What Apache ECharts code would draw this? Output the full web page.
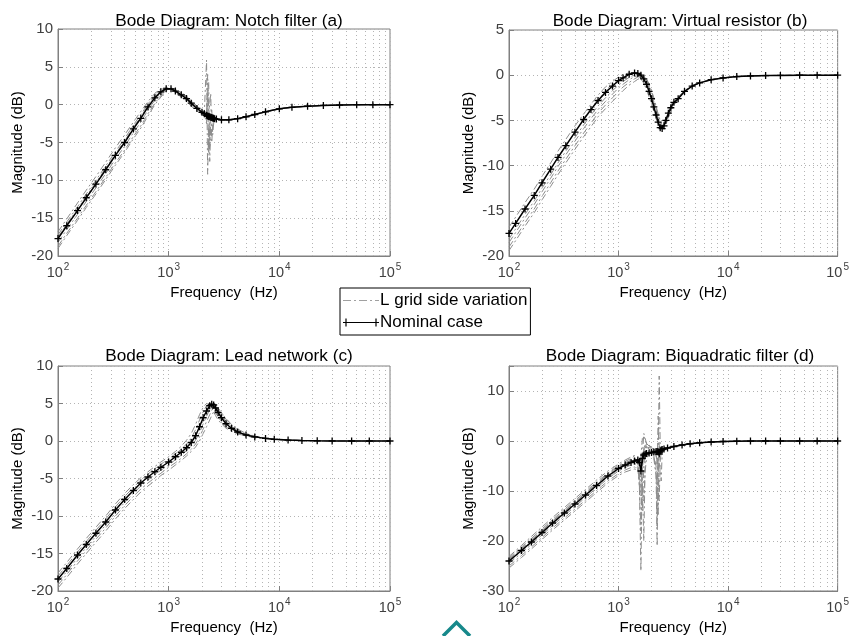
<!DOCTYPE html>
<html><head><meta charset="utf-8">
<script src="https://cdn.jsdelivr.net/npm/echarts@6/dist/echarts.min.js"></script>
<style>html,body{margin:0;padding:0;background:#fff}#c{width:852px;height:636px}</style>
</head><body><div id="c"></div>
<script>
// ---------- data ----------
const titles = ['Bode Diagram: Notch filter (a)', 'Bode Diagram: Virtual resistor (b)', 'Bode Diagram: Lead network (c)', 'Bode Diagram: Biquadratic filter (d)'];
const xName = 'Frequency  (Hz)';
const yName = 'Magnitude (dB)';
const legendNames = ['L grid side variation', 'Nominal case'];
const minorFreq = [200,300,400,500,600,700,800,900,2000,3000,4000,5000,6000,7000,8000,9000,20000,30000,40000,50000,60000,70000,80000,90000];

// (a) Notch filter
const freqA = [100,120,150,180,220,270,330,400,480,560,650,750,850,950,1050,1150,1300,1450,1600,1800,2000,2100,2200,2250,2300,2350,2400,2450,2500,2550,2600,2700,3000,3500,4200,5000,6000,7500,10000,13000,18000,25000,35000,50000,70000,100000];
const nomA = [-17.7,-16.0,-14.0,-12.3,-10.5,-8.6,-6.7,-5.0,-3.2,-1.8,-0.3,0.9,1.7,2.1,2.1,1.8,1.3,0.8,0.2,-0.5,-1.0,-1.2,-1.4,-1.5,-1.55,-1.6,-1.65,-1.7,-1.75,-1.8,-1.85,-1.9,-2.0,-2.0,-1.85,-1.6,-1.3,-0.95,-0.55,-0.35,-0.2,-0.1,-0.05,0,0,0];
const varA1 = [-16.8,-15.1,-13.0,-11.3,-9.5,-7.6,-5.7,-4.0,-2.3,-0.9,0.4,1.5,2.1,2.3,2.0,1.6,1.0,0.4,-0.2,-0.8,-1.2,-1.0,5.9,-9.2,-3.0,-2.2,-2.0,-1.9,-1.9,-1.9,-1.95,-2.0,-2.05,-2.0,-1.8,-1.55,-1.25,-0.9,-0.5,-0.33,-0.2,-0.1,-0.05,0,0,0];
const varA2 = [-17.2,-15.5,-13.5,-11.8,-10.0,-8.1,-6.2,-4.5,-2.7,-1.3,0.1,1.2,1.9,2.2,2.05,1.7,1.15,0.6,0.0,-0.65,-1.1,-1.3,-1.2,1.5,-6.5,-2.5,-1.9,-1.8,-1.8,-1.85,-1.9,-1.95,-2.0,-2.0,-1.85,-1.6,-1.3,-0.95,-0.55,-0.35,-0.2,-0.1,-0.05,0,0,0];
const varA3 = [-18.2,-16.5,-14.5,-12.8,-11.0,-9.1,-7.2,-5.5,-3.7,-2.3,-0.7,0.6,1.5,2.0,2.15,1.9,1.4,0.9,0.35,-0.4,-0.9,-1.1,-1.3,-1.4,3.0,-7.5,-3.0,-2.0,-1.8,-1.8,-1.85,-1.9,-2.0,-2.0,-1.85,-1.6,-1.3,-0.95,-0.55,-0.35,-0.2,-0.1,-0.05,0,0,0];
const varA4 = [-18.7,-17.0,-15.0,-13.3,-11.5,-9.6,-7.7,-6.0,-4.2,-2.8,-1.2,0.2,1.2,1.9,2.2,2.0,1.5,1.0,0.5,-0.3,-0.8,-1.0,-1.2,-1.3,-1.4,-1.3,1.5,-5.0,-2.8,-2.1,-1.9,-1.95,-2.0,-2.0,-1.85,-1.6,-1.3,-0.95,-0.55,-0.35,-0.2,-0.1,-0.05,0,0,0];
const varA5 = [-19.0,-17.3,-15.3,-13.6,-11.8,-9.9,-8.0,-6.3,-4.5,-3.1,-1.5,0.0,1.0,1.8,2.2,2.05,1.6,1.1,0.6,-0.2,-0.7,-0.9,-1.1,-1.2,-1.3,-1.4,-1.5,-0.5,-4.0,-2.5,-2.1,-2.0,-2.0,-2.0,-1.85,-1.6,-1.3,-0.95,-0.55,-0.35,-0.2,-0.1,-0.05,0,0,0];
const varA6 = [-17.5,-15.8,-13.8,-12.1,-10.3,-8.4,-6.5,-4.8,-3.0,-1.6,-0.1,1.0,1.8,2.15,2.1,1.75,1.2,0.7,0.1,-0.6,-1.05,-1.25,-2.5,4.0,-1.0,-5.5,-2.2,-1.9,-1.8,-1.85,-1.9,-1.95,-2.0,-2.0,-1.85,-1.6,-1.3,-0.95,-0.55,-0.35,-0.2,-0.1,-0.05,0,0,0];

// (b) Virtual resistor
const freqB = [100,115,140,170,200,240,280,330,400,480,560,650,760,880,1000,1100,1250,1400,1500,1600,1700,1800,1900,2000,2100,2200,2300,2400,2500,2600,2700,2850,3000,3200,3500,4000,4700,5500,7000,9000,12000,16000,22000,30000,45000,65000,100000];
const nomB = [-17.5,-16.4,-14.8,-13.3,-11.9,-10.4,-9.1,-7.8,-6.3,-4.9,-3.8,-2.8,-1.9,-1.2,-0.6,-0.3,0.1,0.25,0.2,0.0,-0.4,-1.0,-1.8,-2.6,-3.5,-4.4,-5.2,-5.8,-5.9,-5.6,-5.0,-4.2,-3.6,-3.0,-2.6,-1.8,-1.2,-0.85,-0.5,-0.3,-0.15,-0.08,-0.04,-0.02,0,0,0];
const varB1 = [-16.8,-15.7,-14.1,-12.6,-11.2,-9.7,-8.4,-7.1,-5.6,-4.3,-3.2,-2.2,-1.3,-0.7,-0.2,0.1,0.25,0.2,0.0,-0.4,-0.9,-1.6,-2.4,-3.2,-4.0,-4.8,-5.4,-5.7,-5.6,-5.2,-4.7,-4.0,-3.4,-2.8,-2.4,-1.7,-1.15,-0.8,-0.48,-0.28,-0.15,-0.08,-0.04,-0.02,0,0,0];
const varB2 = [-18.1,-17.0,-15.4,-13.9,-12.5,-11.0,-9.7,-8.4,-6.9,-5.5,-4.4,-3.4,-2.5,-1.7,-1.1,-0.7,-0.25,0.05,0.1,0.05,-0.2,-0.7,-1.4,-2.2,-3.1,-4.0,-4.9,-5.5,-5.8,-5.7,-5.2,-4.4,-3.7,-3.1,-2.6,-1.8,-1.2,-0.85,-0.5,-0.3,-0.15,-0.08,-0.04,-0.02,0,0,0];
const varB3 = [-18.5,-17.4,-15.8,-14.3,-12.9,-11.4,-10.1,-8.8,-7.3,-5.9,-4.8,-3.8,-2.9,-2.1,-1.4,-1.0,-0.5,-0.15,-0.05,0.0,-0.1,-0.5,-1.2,-2.0,-2.9,-3.8,-4.7,-5.4,-5.8,-5.8,-5.3,-4.5,-3.8,-3.1,-2.6,-1.8,-1.2,-0.85,-0.5,-0.3,-0.15,-0.08,-0.04,-0.02,0,0,0];
const varB4 = [-19.0,-17.9,-16.3,-14.8,-13.4,-11.9,-10.6,-9.3,-7.8,-6.4,-5.3,-4.2,-3.3,-2.5,-1.8,-1.3,-0.8,-0.4,-0.2,-0.1,-0.15,-0.4,-1.0,-1.8,-2.7,-3.6,-4.5,-5.2,-5.7,-5.8,-5.4,-4.6,-3.9,-3.2,-2.6,-1.8,-1.2,-0.85,-0.5,-0.3,-0.15,-0.08,-0.04,-0.02,0,0,0];
const varB5 = [-19.4,-18.3,-16.7,-15.2,-13.8,-12.3,-11.0,-9.7,-8.2,-6.8,-5.7,-4.6,-3.7,-2.9,-2.2,-1.7,-1.1,-0.7,-0.45,-0.3,-0.3,-0.5,-1.0,-1.7,-2.5,-3.4,-4.3,-5.0,-5.6,-5.8,-5.5,-4.7,-4.0,-3.3,-2.7,-1.85,-1.25,-0.85,-0.5,-0.3,-0.15,-0.08,-0.04,-0.02,0,0,0];

// (c) Lead network
const freqC = [100,120,150,180,220,270,330,400,480,560,650,750,850,1000,1150,1300,1450,1600,1750,1900,2050,2200,2350,2450,2550,2650,2800,3000,3300,3700,4200,5000,6000,7500,9000,12000,16000,22000,30000,45000,65000,100000];
const nomC = [-18.4,-17.0,-15.2,-13.8,-12.3,-10.8,-9.2,-7.8,-6.6,-5.6,-4.8,-4.1,-3.5,-2.8,-2.1,-1.5,-0.9,-0.2,0.7,1.9,3.1,4.0,4.7,4.9,4.8,4.4,3.8,3.1,2.3,1.7,1.2,0.8,0.55,0.35,0.22,0.12,0.06,0.03,0.01,0,0,0];
const varC1 = [-17.6,-16.2,-14.4,-13.0,-11.5,-10.0,-8.4,-7.0,-5.8,-4.9,-4.1,-3.4,-2.8,-2.1,-1.4,-0.7,0.1,1.0,2.2,3.5,4.5,5.0,4.8,4.4,3.9,3.4,2.8,2.3,1.7,1.3,0.95,0.65,0.45,0.3,0.2,0.1,0.05,0.02,0.01,0,0,0];
const varC2 = [-18.0,-16.6,-14.8,-13.4,-11.9,-10.4,-8.8,-7.4,-6.2,-5.2,-4.4,-3.7,-3.1,-2.4,-1.7,-1.1,-0.4,0.4,1.5,2.8,3.9,4.7,4.9,4.7,4.3,3.8,3.2,2.6,1.9,1.4,1.05,0.7,0.5,0.32,0.2,0.11,0.06,0.03,0.01,0,0,0];
const varC3 = [-18.8,-17.4,-15.6,-14.2,-12.7,-11.2,-9.6,-8.2,-7.0,-6.0,-5.2,-4.5,-3.9,-3.2,-2.5,-1.9,-1.3,-0.7,0.1,1.1,2.3,3.3,4.2,4.6,4.8,4.7,4.2,3.5,2.6,1.9,1.35,0.85,0.6,0.37,0.23,0.13,0.06,0.03,0.01,0,0,0];
const varC4 = [-19.2,-17.8,-16.0,-14.6,-13.1,-11.6,-10.0,-8.6,-7.4,-6.4,-5.6,-4.9,-4.3,-3.5,-2.9,-2.3,-1.7,-1.1,-0.4,0.5,1.6,2.6,3.5,4.1,4.5,4.6,4.4,3.8,2.9,2.1,1.5,0.9,0.62,0.38,0.24,0.13,0.07,0.03,0.01,0,0,0];
const varC5 = [-19.6,-18.2,-16.4,-15.0,-13.5,-12.0,-10.4,-9.0,-7.8,-6.8,-6.0,-5.3,-4.6,-3.9,-3.2,-2.6,-2.0,-1.4,-0.8,0.0,1.0,1.9,2.8,3.4,3.9,4.1,4.1,3.7,3.0,2.2,1.6,1.0,0.65,0.4,0.25,0.14,0.07,0.03,0.01,0,0,0];

// (d) Biquadratic filter
const freqD = [100,130,160,200,250,320,400,500,630,800,1000,1150,1300,1400,1500,1550,1600,1650,1700,1750,1800,1900,2000,2100,2200,2250,2300,2350,2400,2450,2500,2600,2800,3200,3800,4500,5500,7000,9000,12000,16000,22000,30000,45000,65000,100000];
const nomD = [-24.0,-21.9,-20.2,-18.3,-16.4,-14.4,-12.6,-10.8,-8.9,-7.0,-5.5,-4.8,-4.3,-4.0,-3.8,-4.3,-6.0,-3.5,-2.8,-2.6,-2.5,-2.4,-2.3,-2.2,-2.1,-2.1,-2.2,-2.6,-2.0,-1.8,-1.7,-1.6,-1.4,-1.1,-0.8,-0.55,-0.35,-0.2,-0.1,-0.05,-0.02,0,0,0,0,0];
const varD1 = [-23.4,-21.2,-19.5,-17.6,-15.7,-13.7,-11.9,-10.1,-8.2,-6.4,-4.9,-4.1,-3.5,-3.0,-4.5,-9,-26,-3.0,1.5,0.5,-0.5,-1.2,-1.5,-1.7,-1.8,-1.9,-1.9,-1.9,-1.8,-1.7,-1.6,-1.5,-1.3,-1.05,-0.78,-0.53,-0.34,-0.2,-0.1,-0.05,-0.02,0,0,0,0,0];
const varD2 = [-23.7,-21.6,-19.9,-18.0,-16.1,-14.1,-12.3,-10.5,-8.6,-6.7,-5.2,-4.5,-4.0,-3.7,-3.6,-3.7,-4.2,-4.8,-3.0,-2.5,-2.3,-2.3,-2.5,-3.5,-7,-21,-4,13,-1.0,-1.5,-1.6,-1.55,-1.4,-1.1,-0.8,-0.55,-0.35,-0.2,-0.1,-0.05,-0.02,0,0,0,0,0];
const varD3 = [-24.5,-22.4,-20.7,-18.8,-16.9,-14.9,-13.1,-11.3,-9.4,-7.5,-6.0,-5.3,-4.8,-4.6,-5.5,-9,-18,-6,-2.0,-1.0,-1.2,-1.6,-2.0,-3.0,-6,-10,-3.5,-1.0,-1.5,-1.6,-1.6,-1.5,-1.35,-1.1,-0.8,-0.55,-0.35,-0.2,-0.1,-0.05,-0.02,0,0,0,0,0];
const varD4 = [-25.0,-22.9,-21.2,-19.3,-17.4,-15.4,-13.6,-11.8,-9.9,-8.0,-6.5,-5.8,-5.3,-5.2,-5.6,-6.5,-9,-14,-5,-1.5,-0.5,-1.0,-1.6,-2.2,-3.0,-4.0,-6,-12,-4,-2.2,-1.8,-1.6,-1.4,-1.1,-0.8,-0.55,-0.35,-0.2,-0.1,-0.05,-0.02,0,0,0,0,0];
const varD5 = [-23.1,-20.9,-19.1,-17.2,-15.3,-13.3,-11.5,-9.7,-7.8,-6.0,-4.6,-3.8,-3.2,-2.9,-3.5,-8,-3.0,0.5,1.0,0.2,-0.5,-1.0,-1.3,-1.6,-2.5,-5,5,-1.0,-1.5,-1.6,-1.6,-1.5,-1.35,-1.1,-0.8,-0.55,-0.35,-0.2,-0.1,-0.05,-0.02,0,0,0,0,0];
const varD6 = [-25.4,-23.3,-21.6,-19.7,-17.8,-15.8,-14.0,-12.2,-10.3,-8.4,-6.9,-6.2,-5.8,-5.6,-5.8,-6.3,-7.5,-9,-12,-6,-3.5,-2.5,-2.5,-3.0,-5.0,-17,-6,-2.5,-2.2,-2.0,-1.9,-1.7,-1.45,-1.15,-0.82,-0.56,-0.36,-0.2,-0.1,-0.05,-0.02,0,0,0,0,0];
const varD7 = [-23.6,-21.5,-19.8,-17.9,-16.0,-14.0,-12.2,-10.4,-8.5,-6.6,-5.1,-4.4,-3.8,-3.5,-3.6,-4.0,-5.5,-8,-20,-4,-1.0,-0.8,-1.3,-1.8,-2.5,-4,-15,-3,-1.6,-1.6,-1.6,-1.5,-1.35,-1.1,-0.8,-0.55,-0.35,-0.2,-0.1,-0.05,-0.02,0,0,0,0,0];
const varD8 = [-24.2,-22.1,-20.4,-18.5,-16.6,-14.6,-12.8,-11.0,-9.1,-7.2,-5.7,-5.0,-4.5,-4.4,-5.0,-7,-11,-5,-1.5,-0.8,-1.0,-1.4,-1.8,-2.2,-2.8,-3.2,-3.8,-4.5,-5.5,-8,-2.5,-1.7,-1.4,-1.1,-0.8,-0.55,-0.35,-0.2,-0.1,-0.05,-0.02,0,0,0,0,0];

// y-axis ranges per panel
const yMin = [-20, -20, -20, -30];
const yMax = [10, 5, 10, 15];
const yStep = [5, 5, 5, 10];

// ---------- chart ----------
const panels = [
  {freq: freqA, nom: nomA, vars: [varA1, varA2, varA3, varA4, varA5, varA6]},
  {freq: freqB, nom: nomB, vars: [varB1, varB2, varB3, varB4, varB5]},
  {freq: freqC, nom: nomC, vars: [varC1, varC2, varC3, varC4, varC5]},
  {freq: freqD, nom: nomD, vars: [varD1, varD2, varD3, varD4, varD5, varD6, varD7, varD8]}
];
const gridBoxes = [
  {left: 58, top: 29, width: 332, height: 227},
  {left: 509, top: 30, width: 333, height: 226},
  {left: 58, top: 366, width: 332, height: 226},
  {left: 509, top: 366, width: 333, height: 226}
];
const FONT = '"Liberation Sans", Arial, Helvetica, sans-serif';
const tickColor = '#404040';
const axisColor = '#808080';
const gridDot = {type: [1, 3], color: '#b4b4b4', width: 1};
const pairs = (f, v) => f.map((x, i) => [x, v[i]]);
const plusPath = 'path://M5,0L5,10M0,5L10,5';
// legend icons (drawn as filled shapes)
const dashDotIcon = 'path://M0,0h8v1.2h-8z M11,0h2v1.2h-2z M16,0h8v1.2h-8z M27,0h2v1.2h-2z M32,0h4v1.2h-4z';
const lineMarkIcon = 'path://M0,3.4h36v1.2h-36z M2.4,0h1.2v8h-1.2z M32.4,0h1.2v8h-1.2z';

const series = [];
panels.forEach((p, gi) => {
  p.vars.forEach((v, k) => {
    const s = {
      name: legendNames[0], type: 'line', xAxisIndex: gi, yAxisIndex: gi,
      data: pairs(p.freq, v), showSymbol: false, symbol: 'none', silent: true, z: 2,
      lineStyle: {color: '#8c8c8c', width: 1, type: [7, 3, 2, 3]},
      itemStyle: {color: '#8c8c8c'}
    };
    if (k === 0) {
      s.markLine = {
        silent: true, symbol: 'none', label: {show: false},
        lineStyle: gridDot, emphasis: {disabled: true},
        data: minorFreq.map(f => ({xAxis: f}))
      };
    }
    series.push(s);
  });
  series.push({
    name: legendNames[1], type: 'line', xAxisIndex: gi, yAxisIndex: gi,
    data: pairs(p.freq, p.nom), silent: true, z: 5,
    symbol: plusPath, symbolSize: 7, showSymbol: true,
    lineStyle: {color: '#000', width: 1.5},
    itemStyle: {color: '#000', borderColor: '#000', borderWidth: 1.3}
  });
});

const titleCenters = [[224, 8], [675, 8], [224, 343], [675, 343]];

const option = {
  animation: false,
  backgroundColor: '#ffffff',
  textStyle: {fontFamily: FONT},
  title: titles.map((t, i) => ({
    text: t, left: titleCenters[i][0], top: titleCenters[i][1], textAlign: 'center',
    textStyle: {fontFamily: FONT, fontSize: 17.2, fontWeight: 'normal', color: '#000'}
  })),
  legend: {
    data: [
      {name: legendNames[0], icon: dashDotIcon, itemStyle: {color: '#a0a0a0', borderWidth: 0, opacity: 1}},
      {name: legendNames[1], icon: lineMarkIcon, itemStyle: {color: '#000', borderWidth: 0}}
    ],
    symbolKeepAspect: true,
    orient: 'vertical', left: 340, top: 288,
    backgroundColor: '#fff', borderColor: '#000', borderWidth: 1, borderRadius: 0,
    padding: [4, 3, 4, 3], itemGap: 5, itemWidth: 36, itemHeight: 10,
    textStyle: {fontFamily: FONT, fontSize: 17, color: '#000', padding: [0, 0, 0, -4]}
  },
  grid: gridBoxes.map(g => Object.assign({show: true, borderColor: axisColor, borderWidth: 1, backgroundColor: '#fff'}, g)),
  xAxis: gridBoxes.map((g, i) => ({
    type: 'log', logBase: 10, gridIndex: i, min: 100, max: 100000,
    name: xName, nameLocation: 'middle', nameGap: 29,
    nameTextStyle: {fontFamily: FONT, fontSize: 15, color: '#000'},
    axisLine: {show: true, onZero: false, lineStyle: {color: axisColor}},
    axisTick: {show: true, inside: true, length: 5, lineStyle: {color: axisColor}},
    splitLine: {show: true, lineStyle: gridDot},
    axisLabel: {
      margin: 6, color: tickColor,
      formatter: v => '{b|10}{s|' + Math.round(Math.log10(v)) + '}',
      rich: {
        b: {fontFamily: FONT, fontSize: 14.5, color: tickColor, verticalAlign: 'bottom'},
        s: {fontFamily: FONT, fontSize: 10, color: tickColor, verticalAlign: 'bottom', padding: [0, 0, 8, 1]}
      }
    }
  })),
  yAxis: gridBoxes.map((g, i) => ({
    type: 'value', gridIndex: i, min: yMin[i], max: yMax[i], interval: yStep[i],
    name: yName, nameLocation: 'middle', nameGap: 33,
    nameTextStyle: {fontFamily: FONT, fontSize: 15, color: '#000'},
    axisLine: {show: true, onZero: false, lineStyle: {color: axisColor}},
    axisTick: {show: true, inside: true, length: 5, lineStyle: {color: axisColor}},
    splitLine: {show: true, lineStyle: gridDot},
    axisLabel: {
      margin: 5, fontFamily: FONT, fontSize: 15, color: tickColor,
      formatter: v => (v % yStep[i] === 0 ? String(v) : '')
    }
  })),
  graphic: [{
    type: 'polyline', silent: true,
    shape: {points: [[443, 636], [456.5, 622.5], [470, 636]]},
    style: {stroke: '#17898b', lineWidth: 3.5, fill: null}
  }],
  series: series
};

const chart = echarts.init(document.getElementById('c'), null, {renderer: 'canvas'});
chart.setOption(option);
</script>
</body></html>
